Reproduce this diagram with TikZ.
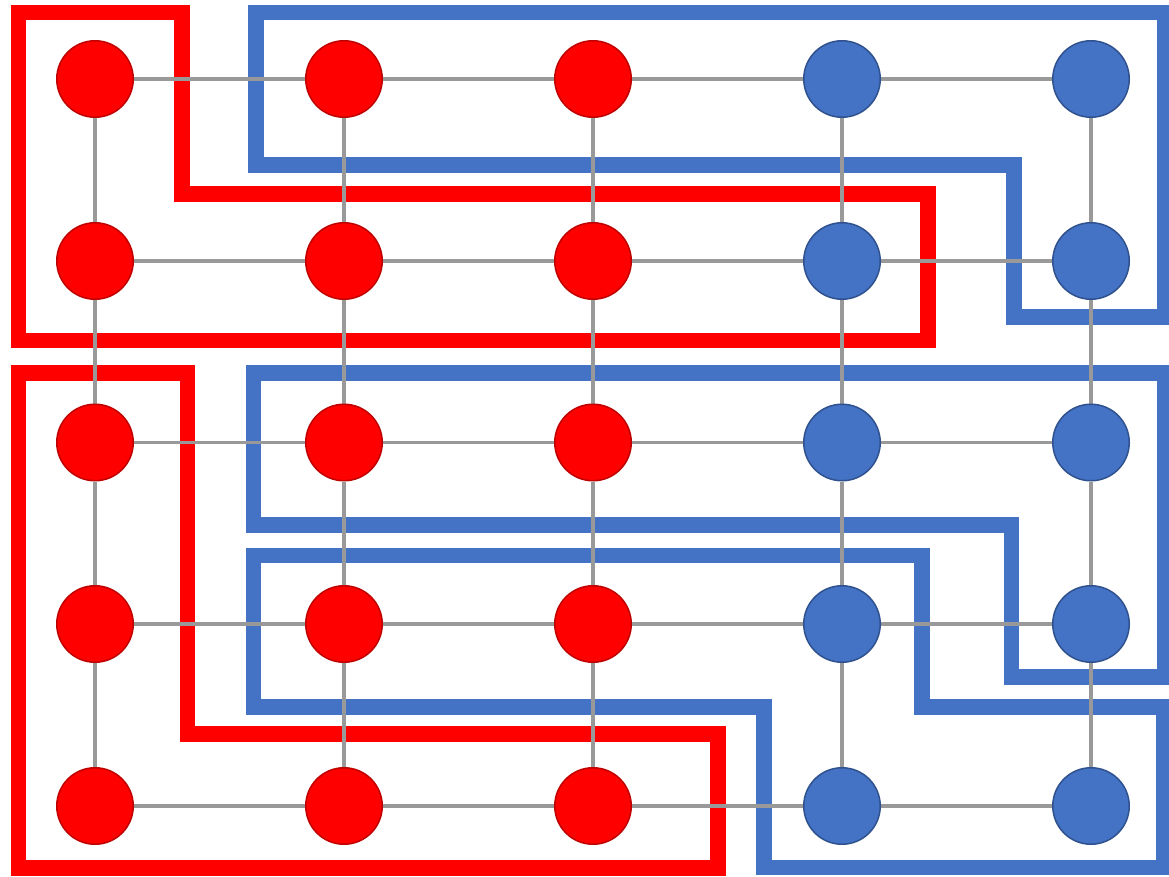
\documentclass[tikz,border=0pt]{standalone}
\pgfdeclarelayer{groups}
\pgfdeclarelayer{edges}
\pgfsetlayers{groups,edges,main}
\begin{document}
\begin{tikzpicture}[x=1pt,y=-1pt,
  redvtx/.style={circle,fill=red,draw=red!75!black,line width=1.5pt,minimum size=76.5pt,inner sep=0pt},
  bluevtx/.style={circle,fill=bluefill,draw=blueline,line width=1.5pt,minimum size=76.5pt,inner sep=0pt},
  edge/.style={draw=edgegray,line width=3.3pt},
  redgroup/.style={draw=red,line width=15.5pt},
  bluegroup/.style={draw=bluefill,line width=15.5pt}]
\definecolor{bluefill}{HTML}{4472C4}
\definecolor{blueline}{HTML}{2F528F}
\definecolor{edgegray}{HTML}{999999}
\useasboundingbox (0,0) rectangle (1169,877);
% nodes
\foreach \r/\y in {0/79,1/261,2/442.5,3/624,4/806}{
  \node[redvtx] (n\r0) at (95,\y) {};
  \node[redvtx] (n\r1) at (344,\y) {};
  \node[redvtx] (n\r2) at (593,\y) {};
  \node[bluevtx] (n\r3) at (842,\y) {};
  \node[bluevtx] (n\r4) at (1091,\y) {};
}
% edges
\begin{pgfonlayer}{edges}
\foreach \r in {0,...,4}{
  \foreach \c/\d in {0/1,1/2,2/3,3/4}{
    \draw[edge] (n\r\c) -- (n\r\d);
  }
}
\foreach \r/\s in {0/1,1/2,2/3,3/4}{
  \foreach \c in {0,...,4}{
    \draw[edge] (n\r\c) -- (n\s\c);
  }
}
\end{pgfonlayer}
% groups
\begin{pgfonlayer}{groups}
\clip (0,0) rectangle (1169,877);
\draw[redgroup] (18.5,12.7) -- (182,12.7) -- (182,194) -- (928,194) -- (928,340.5) -- (18.5,340.5) -- cycle;
\draw[bluegroup] (256,12.7) -- (1165,12.7) -- (1165,317) -- (1014,317) -- (1014,165) -- (256,165) -- cycle;
\draw[redgroup] (18.3,373) -- (187.5,373) -- (187.5,734) -- (718,734) -- (718,868) -- (18.3,868) -- cycle;
\draw[bluegroup] (253.7,373) -- (1165,373) -- (1165,677) -- (1011.7,677) -- (1011.7,525) -- (253.7,525) -- cycle;
\draw[bluegroup] (253.7,555.5) -- (922,555.5) -- (922,707) -- (1164,707) -- (1164,867.5) -- (764,867.5) -- (764,707) -- (253.7,707) -- cycle;
\end{pgfonlayer}
\end{tikzpicture}
\end{document}
